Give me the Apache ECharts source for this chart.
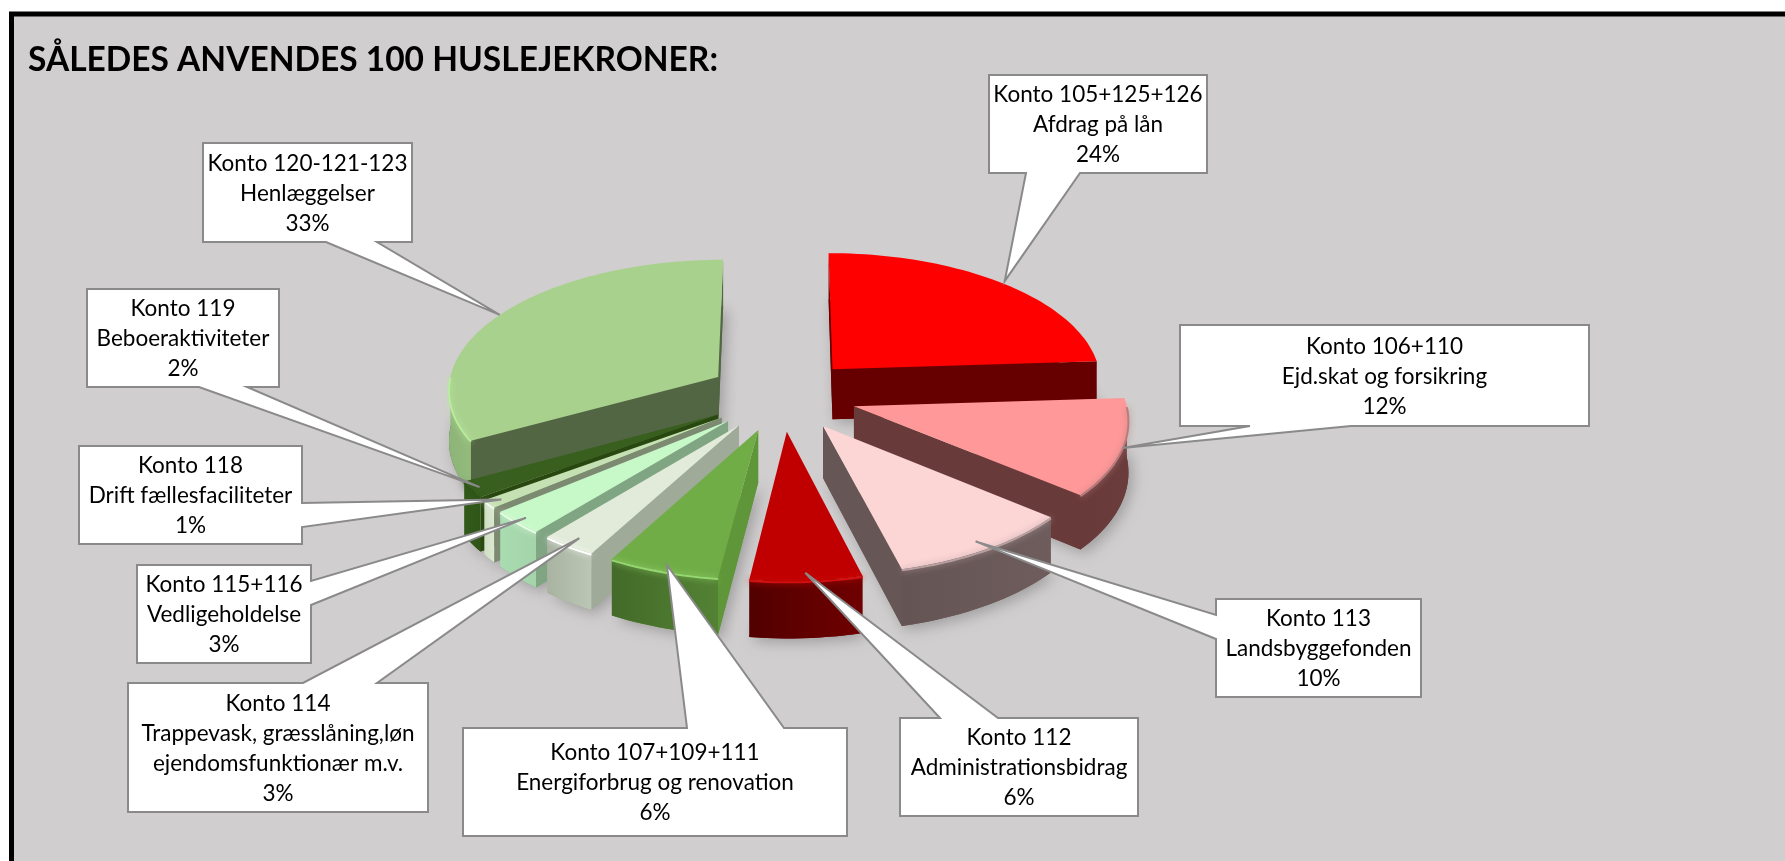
<!DOCTYPE html>
<html>
<head>
<meta charset="utf-8">
<title>Husleje</title>
<script src="https://cdn.jsdelivr.net/npm/echarts@6/dist/echarts.min.js"></script>
<style>
html, body { margin: 0; padding: 0; background: #fff; }
#main { width: 1785px; height: 861px; }
</style>
</head>
<body>
<div id="main"></div>
<script>
// data, clockwise from 12 o'clock
var accounts = ['Konto 105+125+126', 'Konto 106+110', 'Konto 113', 'Konto 112', 'Konto 107+109+111',
	'Konto 114', 'Konto 115+116', 'Konto 118', 'Konto 119', 'Konto 120-121-123'];
var names = ['Afdrag på lån', 'Ejd.skat og forsikring', 'Landsbyggefonden', 'Administrationsbidrag', 'Energiforbrug og renovation',
	'Trappevask, græsslåning,løn\nejendomsfunktionær m.v.', 'Vedligeholdelse', 'Drift fællesfaciliteter', 'Beboeraktiviteter', 'Henlæggelser'];
var shares = [24, 12, 10, 6, 6, 3, 3, 1, 2, 33];

// colours per slice: top, cut face, wall left, wall right, rim line
var sliceColors = [
	['#ff0000', '#660000', '#660000', '#660000', '#cc0000'],
	['#ff9999', '#693a3a', '#6b3c3c', '#693a3a', '#b87c7c'],
	['#fcd5d5', '#675656', '#6f5d5d', '#655454', '#b8a0a0'],
	['#c00000', '#6e0000', '#6f0000', '#520000', '#d40f0f'],
	['#70ad47', '#5f9639', '#538234', '#436a29', '#96d870'],
	['#e2ebd9', '#a0aa98', '#bcc6b4', '#a9b3a1', '#ffffff'],
	['#c6f8c8', '#7fa583', '#a4d4aa', '#a9dcb0', '#e4ffe4'],
	['#c5e0b3', '#7d8a72', '#dce8d0', '#cfdcc4', '#f2faec'],
	['#385f1e', '#28480f', '#2f5518', '#335a1b', '#2e5518'],
	['#a9d18e', '#536644', '#93bb7c', '#8eb478', '#b9ec9e']
];

// callout layout: box x, y, w, h / pointer side and where it leaves the box / radius of tip on the rim
var calloutBox = [
	[989, 75, 218, 98], [1180, 325, 409, 101], [1216, 599, 205, 98], [900, 718, 238, 98], [463, 728, 384, 108],
	[128, 683, 300, 129], [137, 565, 174, 98], [79, 446, 223, 98], [87, 289, 192, 98], [203, 143, 209, 99]
];
var calloutSide = ['bottom', 'bottom', 'left', 'top', 'top', 'top', 'right', 'right', 'bottom', 'bottom'];
var calloutBase = [
	[1026, 1080], [1250, 1351], [615, 639], [940, 998], [687, 784],
	[303, 377], [581, 605], [503, 527], [199, 247], [326, 377]
];
var calloutTipR = [1.02, 1, 0.94, 0.95, 0.96, 0.94, 0.96, 0.95, 0.97, 1];

// the fake 3D projection of the pie
var cx = 782, cy = 395;
var radius = 271, explode = 75, thick = 51;
var tilt = 0.48, persp = 0.085;

var total = 0;
for (var n = 0; n < shares.length; n++) total += shares[n];

function project(x, y, z) {
	var w = 1 + persp * y / radius;
	return [cx + x / w, cy - (tilt * y - z) / w];
}

// start, end, mid angle of a slice in radians
function sliceAngles(idx) {
	var before = 0;
	for (var i = 0; i < idx; i++) before += shares[i];
	var a0 = before / total * Math.PI * 2;
	var a1 = (before + shares[idx]) / total * Math.PI * 2;
	return { a0: a0, a1: a1, mid: (a0 + a1) / 2 };
}

function rimPoint(mid, a, z, r) {
	return project(explode * Math.sin(mid) + r * Math.sin(a), explode * Math.cos(mid) + r * Math.cos(a), z);
}

function arcPoints(mid, from, to, z) {
	var pts = [];
	var steps = Math.max(2, Math.ceil((to - from) / 0.03));
	for (var i = 0; i <= steps; i++) {
		pts.push(rimPoint(mid, from + (to - from) * i / steps, z, radius));
	}
	return pts;
}

function cross(ax, ay, bx, by) {
	return ax * by - ay * bx;
}

// far slices get painted first
function paintRank(idx) {
	var order = shares.map(function (v, i) { return i; });
	order.sort(function (p, q) { return Math.cos(sliceAngles(q).mid) - Math.cos(sliceAngles(p).mid); });
	return order.indexOf(idx);
}

function renderSlice(params, api) {
	var idx = params.dataIndex;
	var ang = sliceAngles(idx);
	var mid = ang.mid;
	var col = sliceColors[idx];
	var base = (paintRank(idx) + 1) * 10;
	var apexTop = rimPoint(mid, 0, 0, 0);
	var apexBot = rimPoint(mid, 0, thick, 0);
	var topArc = arcPoints(mid, ang.a0, ang.a1, 0);
	var botArc = arcPoints(mid, ang.a0, ang.a1, thick);
	var midRim = rimPoint(mid, mid, 0, radius);
	var children = [];

	// ground shadow comes from the bottom face
	children.push({
		type: 'polygon', z2: base,
		shape: { points: [apexBot].concat(botArc) },
		style: { fill: col[1], shadowBlur: 14, shadowColor: 'rgba(0,0,0,0.24)', shadowOffsetX: 4, shadowOffsetY: 4 }
	});

	// cut faces, only the ones turned to the viewer
	[ang.a0, ang.a1].forEach(function (a) {
		var rt = rimPoint(mid, a, 0, radius);
		var rb = rimPoint(mid, a, thick, radius);
		var ex = rt[0] - apexTop[0], ey = rt[1] - apexTop[1];
		var sideOfTop = cross(ex, ey, midRim[0] - apexTop[0], midRim[1] - apexTop[1]);
		var sideOfDown = cross(ex, ey, 0, 1);
		if (sideOfTop * sideOfDown < 0) {
			children.push({
				type: 'polygon', z2: base + 1,
				shape: { points: [apexTop, rt, rb, apexBot] },
				style: { fill: col[1] }
			});
		}
	});

	// outer wall, front half of the circle only
	var from = Math.max(ang.a0, Math.PI / 2);
	var to = Math.min(ang.a1, Math.PI * 1.5);
	if (to > from) {
		var wallTop = arcPoints(mid, from, to, 0);
		var wallBot = arcPoints(mid, from, to, thick);
		children.push({
			type: 'polygon', z2: base + 2,
			shape: { points: wallTop.concat(wallBot.slice().reverse()) },
			style: {
				fill: new echarts.graphic.LinearGradient(0, 0, 1, 0, [
					{ offset: 0, color: col[3] }, { offset: 1, color: col[2] }
				])
			}
		});
	}

	children.push({
		type: 'polygon', z2: base + 3,
		shape: { points: [apexTop].concat(topArc) },
		style: { fill: col[0] }
	});

	if (to > from) {
		children.push({
			type: 'polyline', z2: base + 4,
			shape: { points: arcPoints(mid, from, to, 1) },
			style: { fill: null, stroke: col[4], lineWidth: 2, shadowBlur: 6, shadowColor: col[4] }
		});
	}
	return { type: 'group', children: children };
}

function renderCallout(params, api) {
	var idx = params.dataIndex;
	var b = calloutBox[idx];
	var ang = sliceAngles(idx);
	var tip = rimPoint(ang.mid, ang.mid, 0, radius * calloutTipR[idx]);
	var x0 = b[0], y0 = b[1], x1 = b[0] + b[2], y1 = b[1] + b[3];
	var p = calloutBase[idx];
	var side = calloutSide[idx];
	var pts = [[x0, y0]];
	if (side === 'top') pts.push([p[0], y0], tip, [p[1], y0]);
	pts.push([x1, y0]);
	if (side === 'right') pts.push([x1, p[0]], tip, [x1, p[1]]);
	pts.push([x1, y1]);
	if (side === 'bottom') pts.push([p[1], y1], tip, [p[0], y1]);
	pts.push([x0, y1]);
	if (side === 'left') pts.push([x0, p[1]], tip, [x0, p[0]]);

	return {
		type: 'group',
		children: [{
			type: 'polygon', z2: 300,
			shape: { points: pts },
			style: { fill: '#ffffff', stroke: '#8a8a8a', lineWidth: 2, lineJoin: 'miter' }
		}, {
			type: 'text', z2: 301,
			style: {
				x: (x0 + x1) / 2, y: (y0 + y1) / 2 + 1,
				text: accounts[idx] + '\n' + names[idx] + '\n' + api.value(0) + '%',
				align: 'center', verticalAlign: 'middle',
				fontFamily: 'Lato', fontSize: 22.5, lineHeight: 30, fill: '#000000'
			}
		}]
	};
}

var myChart = echarts.init(document.getElementById('main'));
var option = {
	animation: false,
	backgroundColor: '#ffffff',
	title: {
		text: 'SÅLEDES ANVENDES 100 HUSLEJEKRONER:',
		left: 23, top: 38,
		textStyle: { fontFamily: 'Lato', fontWeight: 'bold', fontSize: 33.5, color: '#000000' }
	},
	graphic: [{
		type: 'rect', z: -1, silent: true,
		shape: { x: 11.5, y: 14, width: 1800, height: 880 },
		style: { fill: '#d0cece', stroke: '#000000', lineWidth: 5 }
	}],
	series: [{
		type: 'custom',
		coordinateSystem: 'none',
		silent: true,
		renderItem: renderSlice,
		data: shares
	}, {
		type: 'custom',
		coordinateSystem: 'none',
		silent: true,
		renderItem: renderCallout,
		data: shares
	}]
};
myChart.setOption(option);
</script>
</body>
</html>
